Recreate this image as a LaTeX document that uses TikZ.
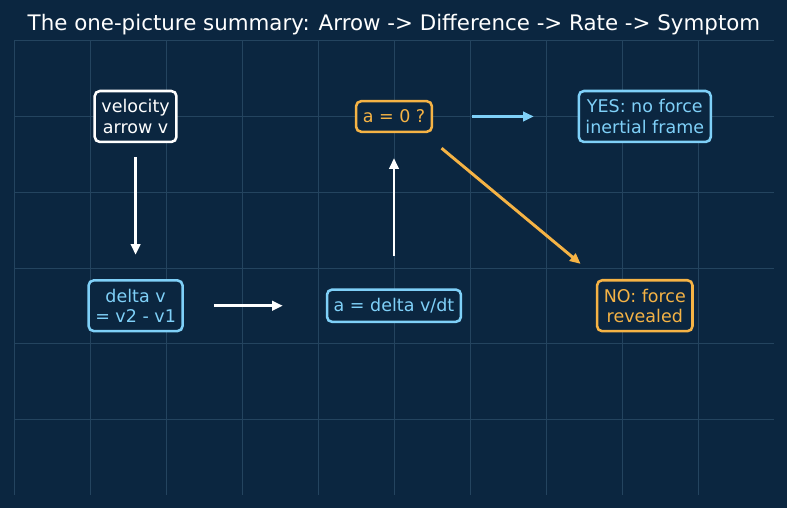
\documentclass[tikz,border=0pt]{standalone}
\usepackage{fontspec}
\setmainfont{DejaVu Sans}
\usetikzlibrary{arrows.meta}
\definecolor{fondo}{HTML}{0B2640}
\definecolor{rejilla}{HTML}{24445F}
\definecolor{celeste}{HTML}{7FD0F8}
\definecolor{naranja}{HTML}{F5B345}
\tikzset{
  caja/.style={draw, rounded corners=3.8pt, line width=1.9pt, fill=fondo, align=center,
    font=\fontsize{13.1}{15}\selectfont, inner xsep=5pt, inner ysep=6.5pt},
}
\begin{document}
\begin{tikzpicture}[x=2cm, y=1.992cm, >={Triangle[length=8pt,width=7pt]}, line width=2.2pt]
        % Fondo y rejilla tenue
        \fill[fondo] (-0.184,-0.172) rectangle (10.171,6.539);
        \useasboundingbox (-0.184,-0.172) rectangle (10.171,6.539);
        \foreach \i in {0,...,9} \draw[rejilla, line width=0.5pt] (\i,0) -- (\i,6);
        \foreach \j in {1,...,6} \draw[rejilla, line width=0.5pt] (0,\j) -- (10,\j);
        
        % Titulo
        \node[anchor=base, text=white, font=\fontsize{16}{19}\selectfont] (titulo) at (5,6.133)
            {The one-picture summary: Arrow -> Difference -> Rate -> Symptom};
        
        % Cajas de la cadena
        \node[caja, draw=white, text=white] (vel) at (1.6,5) {velocity\\arrow v};
        \node[caja, draw=celeste, text=celeste] (dv) at (1.6,2.5) {delta v\\= v2 - v1};
        \node[caja, draw=celeste, text=celeste] (acel) at (5,2.5) {a = delta v/dt};
        \node[caja, draw=naranja, text=naranja] (cero) at (5,5) {a = 0 ?};
        \node[caja, draw=celeste, text=celeste] (si) at (8.3,5) {YES: no force\\inertial frame};
        \node[caja, draw=naranja, text=naranja] (no) at (8.3,2.5) {NO: force\\revealed};
        
        % Flechas entre cajas
        \draw[->, white, shorten <=0.36cm, shorten >=0.64cm] (vel) -- (dv);
        \draw[->, white, shorten <=0.79cm, shorten >=1.13cm] (dv) -- (acel);
        \draw[->, white, shorten <=0.84cm, shorten >=0.66cm] (acel) -- (cero);
        \draw[->, celeste, shorten <=1.02cm, shorten >=1.15cm] (cero) -- (si);
        \draw[->, naranja] ([shift={(0.11,-0.2)}]cero.south east) -- ([shift={(-0.2,0.2)}]no.north west);
    \end{tikzpicture}
\end{document}
